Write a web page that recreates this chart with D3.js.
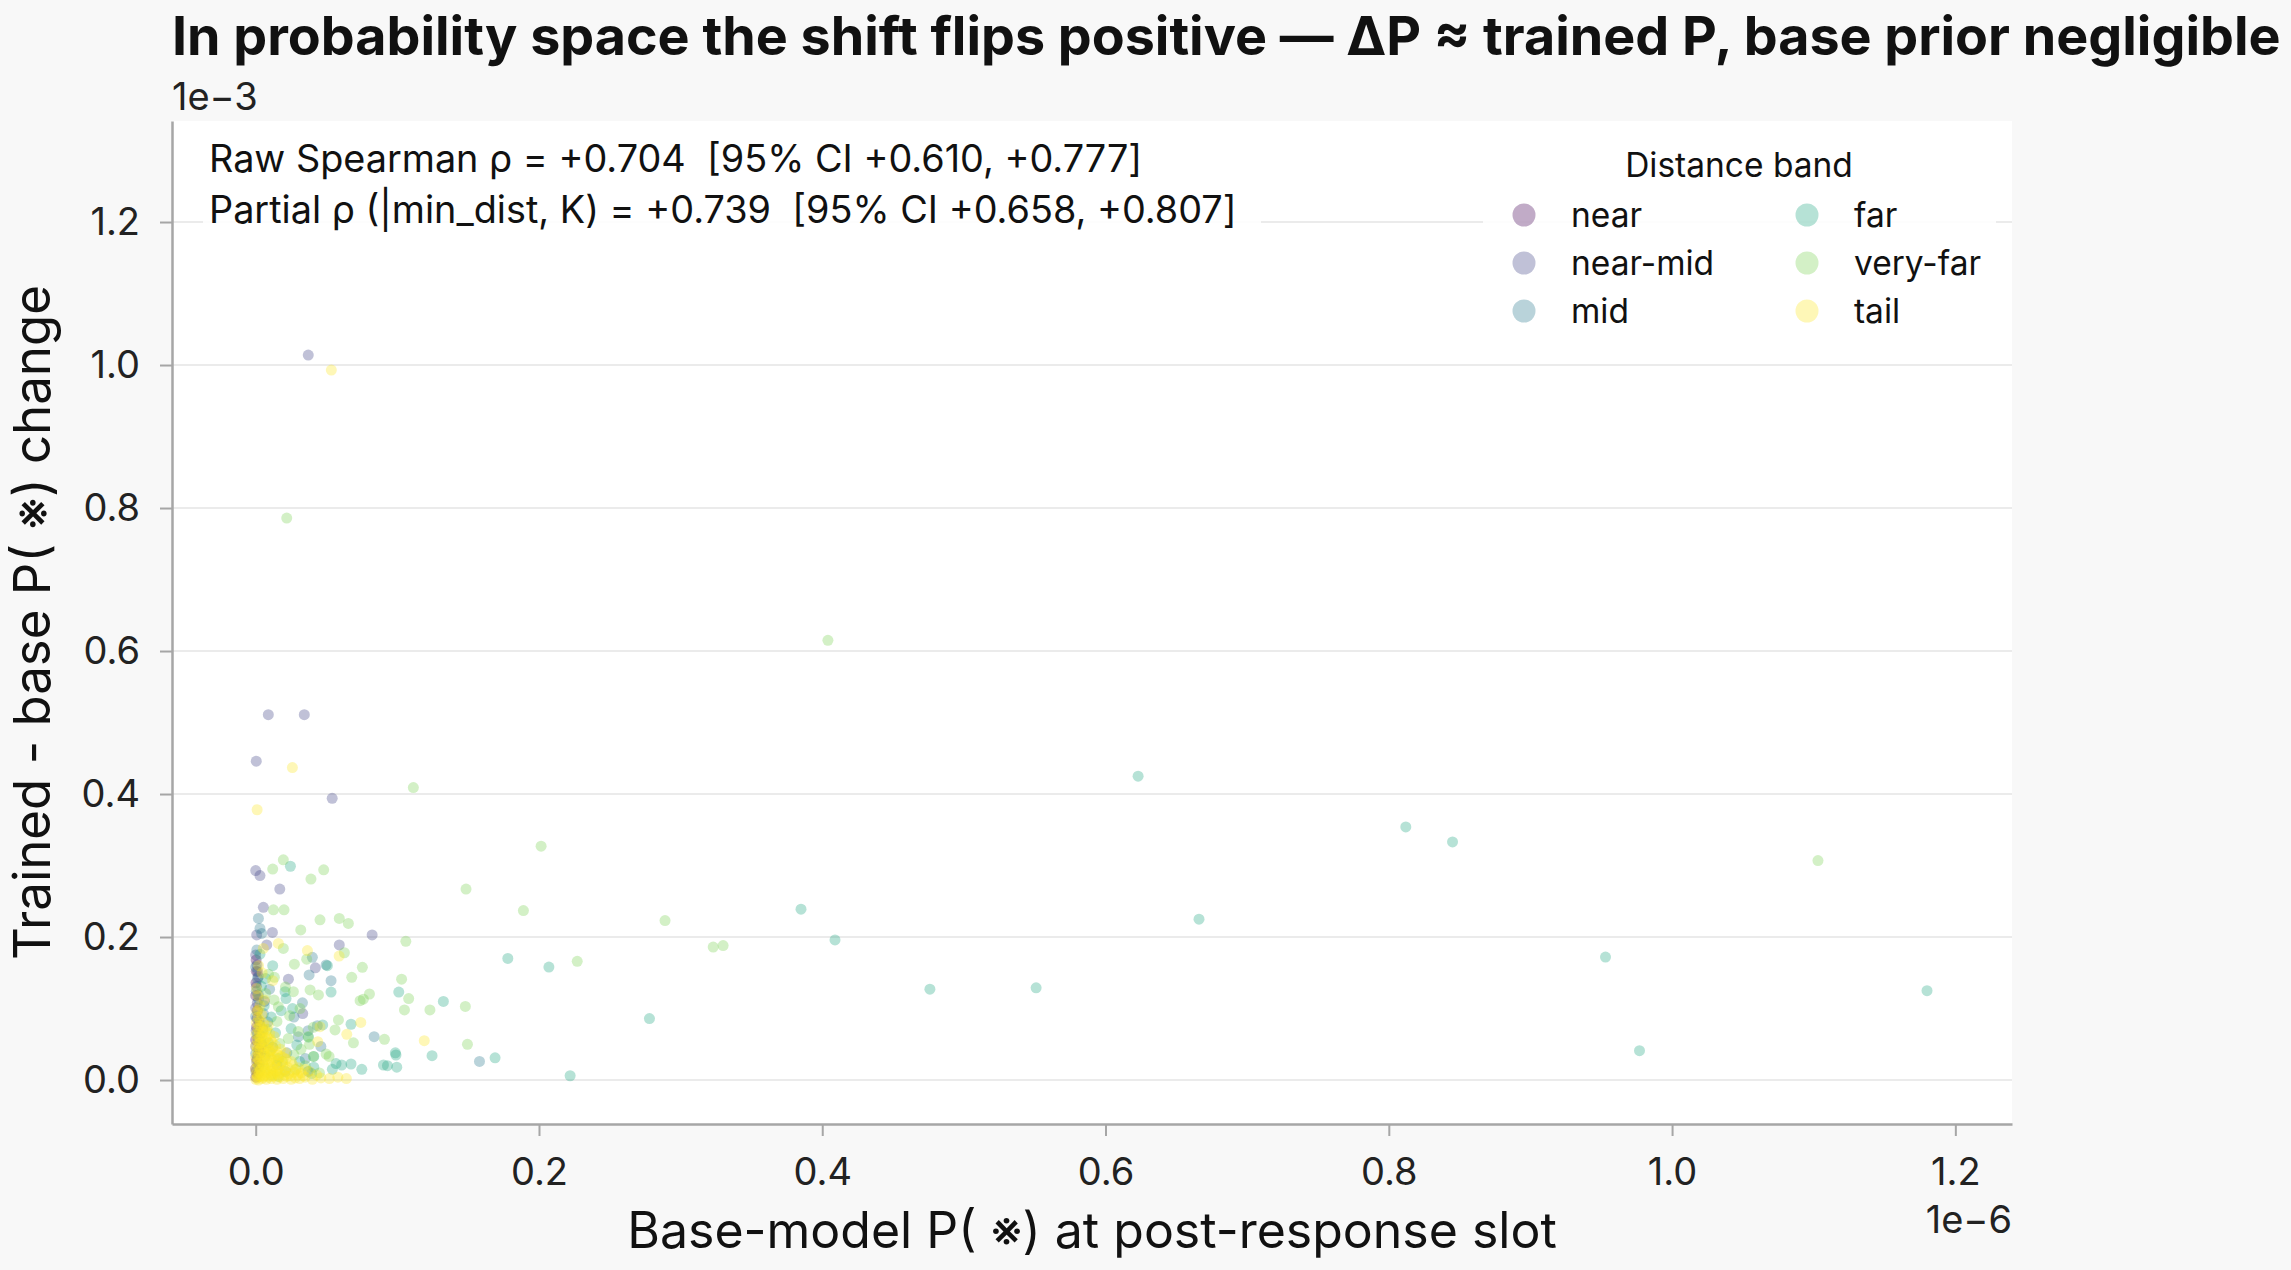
<!DOCTYPE html>
<html>
<head>
<meta charset="utf-8">
<script src="https://cdn.jsdelivr.net/npm/d3@7"></script>
<style>
  html, body { margin: 0; padding: 0; background: #f8f8f8; }
  svg { display: block; font-family: Inter, "Noto Sans", sans-serif; }
</style>
</head>
<body>
<div id="chart"></div>
<script>
// x in units of 1e-6 (base-model P), y in units of 1e-3 (trained - base)
const bands = ['near', 'near-mid', 'mid', 'far', 'very-far', 'tail']
const bandColors = ['#440154', '#414487', '#2a788e', '#22a884', '#7ad151', '#fde725']
const xTicks = [0.0, 0.2, 0.4, 0.6, 0.8, 1.0, 1.2]
const yTicks = [0.0, 0.2, 0.4, 0.6, 0.8, 1.0, 1.2]

const nearPts = [[0.0004,0.152],[0.0000,0.118],[0.0012,0.097],[0.0006,0.074],[0.0000,0.056],[0.0021,0.043],[0.0008,0.029],[0.0000,0.016],[0.0015,0.009],[0.0030,0.063],[0.0002,0.136],[0.0009,0.086],[0.0026,0.022],[0.0001,0.004],[0.0044,0.049],[0.0003,0.168],[0.0017,0.035]]

const nearMidPts = [[0.0371,1.014],[0.0089,0.511],[0.0343,0.511],[0.0004,0.446],[0.0540,0.394],[0.0000,0.293],[0.0030,0.286],[0.0170,0.267],[0.0054,0.2415],[0.0118,0.2065],[0.0007,0.203],[0.0822,0.203],[0.0078,0.189],[0.0000,0.175],[0.0590,0.189],[0.0421,0.157],[0.0014,0.1515],[0.0019,0.1445],[0.0231,0.141],[0.0019,0.119],[0.0332,0.093],
  [0.0005,0.131],[0.0011,0.108],[0.0000,0.101],[0.0024,0.082],[0.0003,0.069],[0.0016,0.058],[0.0000,0.047],[0.0035,0.038],[0.0007,0.026],[0.0002,0.012],[0.0050,0.071],[0.0009,0.161],[0.0062,0.110]]

const midPts = [[0.0019,0.226],[0.0030,0.212],[0.0042,0.205],[0.0400,0.1716],[0.0497,0.161],[0.0377,0.147],[0.0532,0.139],[0.0330,0.108],[0.0054,0.093],[0.0836,0.0606],[0.0301,0.0606],[0.1580,0.026],
  [0.0370,0.012],[0.0370,0.069],[0.0435,0.076],
  [0.0008,0.182],[0.0000,0.158],[0.0013,0.142],[0.0004,0.124],[0.0020,0.113],[0.0000,0.089],[0.0027,0.077],[0.0010,0.064],[0.0000,0.037],[0.0018,0.018],[0.0040,0.052],[0.0066,0.033],[0.0085,0.081],[0.0120,0.046],[0.0150,0.021],[0.0220,0.038],[0.0098,0.127],[0.0270,0.088],[0.0350,0.030],[0.0460,0.047]]

const farPts = [[0.623,0.425],[0.812,0.354],[0.845,0.333],[0.385,0.239],[0.666,0.225],[0.409,0.196],[0.953,0.172],[1.180,0.125],[0.977,0.041],[0.551,0.129],[0.476,0.127],[0.278,0.086],[0.222,0.006],
  [0.0245,0.299],[0.178,0.170],[0.207,0.158],[0.101,0.123],[0.1325,0.110],[0.0986,0.038],[0.0990,0.035],[0.1245,0.034],[0.169,0.031],[0.093,0.020],[0.0996,0.018],
  [0.0506,0.160],[0.0532,0.123],[0.0207,0.1235],[0.0214,0.114],[0.0473,0.077],[0.0673,0.078],[0.0372,0.060],[0.0567,0.023],[0.0607,0.021],[0.0673,0.0224],[0.0749,0.015],[0.0541,0.015],[0.0395,0.009],[0.0902,0.021],
  [0.041,0.033],[0.041,0.018],
  [0.0060,0.104],[0.0110,0.088],[0.0140,0.066],[0.0180,0.097],[0.0090,0.052],[0.0250,0.072],[0.0290,0.049],[0.0160,0.030],[0.0070,0.142],[0.0120,0.160],[0.0030,0.176],[0.0210,0.012],[0.0310,0.026],[0.0040,0.131],[0.0260,0.100]]

const veryFarPts = [[0.0219,0.786],[0.404,0.615],[1.103,0.307],[0.289,0.223],[0.323,0.186],[0.330,0.188],[0.227,0.166],
  [0.1113,0.409],[0.2015,0.327],[0.0195,0.308],[0.012,0.295],[0.048,0.294],[0.039,0.281],[0.1485,0.267],[0.189,0.237],[0.106,0.194],[0.103,0.141],[0.108,0.114],[0.105,0.098],[0.123,0.098],[0.148,0.103],[0.1495,0.050],
  [0.0125,0.238],[0.020,0.238],[0.0454,0.224],[0.059,0.226],[0.0654,0.219],[0.0318,0.21],[0.0195,0.184],[0.0626,0.178],[0.036,0.169],[0.0273,0.162],[0.0753,0.1576],[0.0678,0.1436],[0.0132,0.1436],[0.0384,0.126],[0.0443,0.119],[0.0803,0.1203],[0.076,0.113],[0.0737,0.111],[0.0266,0.1235],[0.0313,0.100],[0.016,0.1026],[0.0584,0.084],[0.0407,0.0737],[0.056,0.070],[0.069,0.052],[0.0497,0.0364],[0.0518,0.033],[0.0407,0.033],[0.0909,0.057],[0.037,0.061],
  [0.0080,0.071],[0.0150,0.082],[0.0230,0.058],[0.0100,0.039],[0.0190,0.026],[0.0280,0.015],[0.0060,0.018],[0.0320,0.043],[0.0130,0.112],[0.0040,0.061],[0.0210,0.130],[0.0170,0.051],[0.0270,0.035],[0.0350,0.020],[0.0110,0.007],[0.0240,0.090],[0.0070,0.121],[0.0450,0.010],[0.0300,0.068],[0.0090,0.148],[0.0160,0.005],[0.0380,0.050]]

const tailPts = [[0.0534,0.993],[0.0259,0.437],[0.001,0.378],[0.016,0.191],[0.0054,0.184],[0.0589,0.1734],[0.0365,0.181],[0.012,0.139],[0.0007,0.128],[0.0019,0.098],[0.0454,0.0746],[0.0742,0.0806],[0.0643,0.064],[0.0438,0.0536],[0.119,0.055],
  [0.0000,0.001],[0.0010,0.003],[0.0020,0.000],[0.0030,0.005],[0.0045,0.002],[0.0060,0.006],[0.0075,0.001],[0.0090,0.004],[0.0110,0.002],[0.0130,0.006],[0.0150,0.001],[0.0170,0.004],[0.0195,0.002],[0.0220,0.005],[0.0250,0.001],[0.0280,0.003],[0.0310,0.002],[0.0350,0.004],[0.0400,0.001],[0.0460,0.003],[0.0520,0.002],
  [0.0005,0.009],[0.0025,0.011],[0.0040,0.008],[0.0065,0.012],[0.0085,0.010],[0.0105,0.013],[0.0125,0.009],[0.0145,0.012],[0.0170,0.010],[0.0200,0.013],[0.0235,0.009],[0.0270,0.011],[0.0320,0.010],[0.0380,0.012],
  [0.0000,0.016],[0.0018,0.019],[0.0035,0.015],[0.0055,0.020],[0.0078,0.017],[0.0098,0.021],[0.0120,0.016],[0.0142,0.019],[0.0165,0.017],[0.0190,0.020],[0.0225,0.018],[0.0260,0.021],[0.0300,0.017],
  [0.0008,0.024],[0.0028,0.027],[0.0048,0.023],[0.0068,0.028],[0.0090,0.025],[0.0112,0.029],[0.0135,0.024],[0.0160,0.027],[0.0185,0.025],[0.0215,0.029],[0.0250,0.026],
  [0.0000,0.032],[0.0020,0.035],[0.0040,0.031],[0.0062,0.036],[0.0085,0.033],[0.0108,0.037],[0.0130,0.032],[0.0155,0.035],[0.0180,0.033],[0.0210,0.038],
  [0.0010,0.040],[0.0032,0.043],[0.0054,0.039],[0.0076,0.044],[0.0098,0.041],[0.0122,0.045],[0.0148,0.040],[0.0175,0.043],
  [0.0000,0.048],[0.0022,0.051],[0.0044,0.047],[0.0066,0.052],[0.0090,0.049],[0.0115,0.053],[0.0140,0.048],
  [0.0012,0.056],[0.0034,0.059],[0.0056,0.055],[0.0080,0.060],[0.0105,0.057],[0.0130,0.061],
  [0.0002,0.064],[0.0026,0.067],[0.0048,0.063],[0.0072,0.068],[0.0098,0.065],
  [0.0014,0.072],[0.0038,0.075],[0.0062,0.071],[0.0088,0.076],
  [0.0004,0.080],[0.0030,0.083],[0.0056,0.079],
  [0.0018,0.088],[0.0044,0.091],[0.0008,0.096],[0.0030,0.104],[0.0060,0.112],[0.0015,0.118],[0.0045,0.150],[0.0020,0.160],
  [0.0013,0.006],[0.0052,0.004],[0.0083,0.007],[0.0118,0.005],[0.0158,0.008],[0.0205,0.007],[0.0245,0.006],[0.0295,0.007],[0.0335,0.006],[0.0430,0.007],[0.0580,0.004],[0.0640,0.002],
  [0.0033,0.014],[0.0072,0.015],[0.0112,0.018],[0.0152,0.014],[0.0210,0.015],[0.0285,0.014],[0.0350,0.015],
  [0.0017,0.030],[0.0058,0.029],[0.0102,0.031],[0.0147,0.028],[0.0200,0.031],[0.0012,0.044],[0.0065,0.045],[0.0108,0.042],[0.0033,0.052],[0.0070,0.058],[0.0022,0.061],[0.0050,0.068],[0.0025,0.076]]

const bandPoints = [nearPts, nearMidPts, midPts, farPts, veryFarPts, tailPts]

const statLines = [
  'Raw Spearman \u03c1 = +0.704  [95% CI +0.610, +0.777]',
  'Partial \u03c1 (|min_dist, K) = +0.739  [95% CI +0.658, +0.807]'
]

const W = 2291, H = 1270
const M = { LEFT: 172, RIGHT: 2012, TOP: 121, BOTTOM: 1124 }

const svg = d3.select('#chart').append('svg')
  .attr('width', W).attr('height', H)

svg.append('rect').attr('width', W).attr('height', H).attr('fill', '#f8f8f8')
svg.append('rect')
  .attr('x', M.LEFT).attr('y', M.TOP)
  .attr('width', M.RIGHT - M.LEFT).attr('height', M.BOTTOM - M.TOP)
  .attr('fill', '#ffffff')

const x = d3.scaleLinear().domain([-0.0591, 1.2400]).range([M.LEFT, M.RIGHT])
const y = d3.scaleLinear().domain([-0.0615, 1.3413]).range([M.BOTTOM, M.TOP])

// horizontal grid
svg.append('g').selectAll('line').data(yTicks).join('line')
  .attr('x1', M.LEFT).attr('x2', M.RIGHT)
  .attr('y1', d => y(d)).attr('y2', d => y(d))
  .attr('stroke', '#ebebeb').attr('stroke-width', 2)

// points, drawn band by band
const pts = svg.append('g')
bandPoints.forEach((arr, i) => {
  pts.append('g').selectAll('circle').data(arr).join('circle')
    .attr('cx', d => x(d[0]))
    .attr('cy', d => y(d[1]))
    .attr('r', 5.5)
    .attr('fill', bandColors[i])
    .attr('fill-opacity', 0.33)
})

// axes
const xAxis = svg.append('g').attr('transform', `translate(0, ${M.BOTTOM})`)
  .call(d3.axisBottom(x).tickValues(xTicks).tickFormat(d3.format('.1f')).tickSize(12).tickSizeOuter(0).tickPadding(22))
const yAxis = svg.append('g').attr('transform', `translate(${M.LEFT}, 0)`)
  .call(d3.axisLeft(y).tickValues(yTicks).tickFormat(d3.format('.1f')).tickSize(12).tickSizeOuter(0).tickPadding(20))

;[xAxis, yAxis].forEach(a => {
  a.select('.domain').attr('stroke', '#a6a6a6').attr('stroke-width', 2.5)
  a.selectAll('.tick line').attr('stroke', '#a6a6a6').attr('stroke-width', 2)
  a.selectAll('.tick text').attr('fill', '#222').attr('font-size', 38).attr('font-family', 'Inter, sans-serif')
})

// offset labels
svg.append('text').attr('x', M.LEFT).attr('y', 110)
  .attr('font-size', 38).attr('fill', '#222').text('1e\u22123')
svg.append('text').attr('x', M.RIGHT).attr('y', 1233)
  .attr('text-anchor', 'end').attr('font-size', 38).attr('fill', '#222').text('1e\u22126')

// axis titles
svg.append('text').attr('x', (M.LEFT + M.RIGHT) / 2).attr('y', 1248)
  .attr('text-anchor', 'middle').attr('font-size', 50).attr('fill', '#111')
  .text('Base-model P( \u203b) at post-response slot')
svg.append('text')
  .attr('transform', `translate(50, ${(M.TOP + M.BOTTOM) / 2}) rotate(-90)`)
  .attr('text-anchor', 'middle').attr('font-size', 51).attr('fill', '#111')
  .text('Trained - base P( \u203b) change')

// title
svg.append('text').attr('x', M.LEFT).attr('y', 55)
  .attr('font-size', 53.8).attr('font-weight', 700).attr('fill', '#111')
  .text('In probability space the shift flips positive \u2014 \u0394P \u2248 trained P, base prior negligible')

// stats box
svg.append('rect').attr('x', 203).attr('y', 128).attr('width', 1058).attr('height', 108)
  .attr('rx', 8).attr('fill', '#ffffff').attr('fill-opacity', 0.9)
svg.append('g').selectAll('text').data(statLines).join('text')
  .attr('x', 209).attr('y', (d, i) => 172 + i * 51)
  .attr('font-size', 37.8).attr('fill', '#111')
  .attr('xml:space', 'preserve').style('white-space', 'pre')
  .text(d => d)

// legend
const lg = svg.append('g')
lg.append('rect').attr('x', 1483).attr('y', 130).attr('width', 513).attr('height', 212)
  .attr('rx', 8).attr('fill', '#ffffff').attr('fill-opacity', 0.9)
lg.append('text').attr('x', 1739).attr('y', 165).attr('dy', '0.35em')
  .attr('text-anchor', 'middle').attr('font-size', 33.5).attr('fill', '#111').text('Distance band')
const items = lg.selectAll('g.item').data(bands).join('g')
  .attr('transform', (d, i) => `translate(${i < 3 ? 1524 : 1807}, ${215 + (i % 3) * 48})`)
items.append('circle').attr('r', 11.5)
  .attr('fill', (d, i) => bandColors[i]).attr('fill-opacity', 0.33)
items.append('text').attr('x', 47).attr('dy', '0.35em')
  .attr('font-size', 33.5).attr('fill', '#111').text(d => d)
</script>
</body>
</html>
